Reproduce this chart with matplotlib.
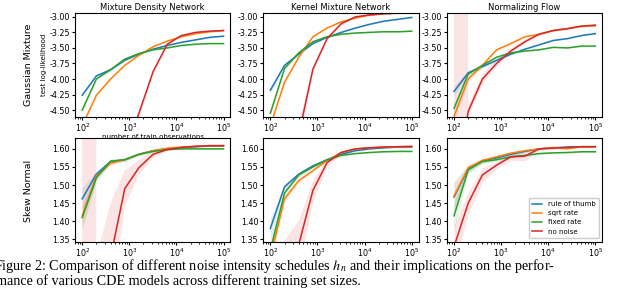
import numpy as np
import matplotlib
matplotlib.use("Agg")
import matplotlib.pyplot as plt

plt.rcParams['mathtext.fontset'] = 'stix'

# training set sizes
n_obs = [100, 200, 400, 800, 1600, 3200, 6400, 12800, 25600, 51200, 100000]

series_names = ['rule of thumb', 'sqrt rate', 'fixed rate', 'no noise']
series_colors = ['#1f77b4', '#ff7f0e', '#2ca02c', '#d62728']
col_titles = ['Mixture Density Network', 'Kernel Mixture Network', 'Normalizing Flow']
row_titles = ['Gaussian Mixture', 'Skew Normal']

# Gaussian Mixture - test log-likelihood
gm_mdn_rot = [-4.26, -3.95, -3.85, -3.70, -3.60, -3.52, -3.46, -3.41, -3.37, -3.33, -3.31]
gm_mdn_sqrt = [-4.75, -4.26, -4.00, -3.78, -3.62, -3.48, -3.39, -3.32, -3.27, -3.24, -3.22]
gm_mdn_fixed = [-4.50, -4.00, -3.85, -3.68, -3.59, -3.53, -3.50, -3.46, -3.44, -3.43, -3.43]
gm_mdn_none = [-6.5, -6.2, -5.8, -5.2, -4.55, -3.88, -3.44, -3.30, -3.25, -3.23, -3.22]

gm_kmn_rot = [-4.18, -3.78, -3.60, -3.43, -3.33, -3.25, -3.18, -3.12, -3.07, -3.04, -3.01]
gm_kmn_sqrt = [-4.75, -4.05, -3.65, -3.32, -3.18, -3.08, -3.02, -2.97, -2.95, -2.94, -2.94]
gm_kmn_fixed = [-4.55, -3.83, -3.58, -3.40, -3.32, -3.28, -3.26, -3.25, -3.24, -3.24, -3.23]
gm_kmn_none = [-6.5, -5.8, -4.9, -3.84, -3.35, -3.11, -3.00, -2.97, -2.95, -2.94, -2.93]

gm_nf_rot = [-4.20, -3.90, -3.80, -3.70, -3.60, -3.52, -3.45, -3.38, -3.35, -3.30, -3.27]
gm_nf_sqrt = [-4.60, -4.00, -3.78, -3.53, -3.43, -3.32, -3.28, -3.22, -3.19, -3.15, -3.13]
gm_nf_fixed = [-4.47, -3.92, -3.78, -3.65, -3.58, -3.55, -3.53, -3.49, -3.50, -3.47, -3.47]
gm_nf_none = [-6.0, -4.52, -4.00, -3.75, -3.55, -3.40, -3.28, -3.22, -3.19, -3.15, -3.14]

# Skew Normal - test log-likelihood
sn_mdn_rot = [1.462, 1.530, 1.565, 1.570, 1.585, 1.595, 1.600, 1.603, 1.606, 1.608, 1.608]
sn_mdn_sqrt = [1.415, 1.525, 1.560, 1.570, 1.585, 1.595, 1.602, 1.605, 1.607, 1.608, 1.609]
sn_mdn_fixed = [1.410, 1.520, 1.566, 1.570, 1.585, 1.593, 1.598, 1.600, 1.600, 1.600, 1.600]
sn_mdn_none = [0.50, 1.00, 1.30, 1.49, 1.548, 1.585, 1.598, 1.604, 1.607, 1.609, 1.609]

sn_kmn_rot = [1.380, 1.495, 1.530, 1.553, 1.570, 1.585, 1.595, 1.600, 1.603, 1.605, 1.605]
sn_kmn_sqrt = [1.300, 1.462, 1.512, 1.540, 1.568, 1.590, 1.600, 1.603, 1.605, 1.606, 1.606]
sn_kmn_fixed = [1.320, 1.478, 1.528, 1.550, 1.570, 1.582, 1.587, 1.590, 1.592, 1.593, 1.593]
sn_kmn_none = [1.10, 1.20, 1.335, 1.485, 1.562, 1.590, 1.600, 1.603, 1.605, 1.606, 1.607]

sn_nf_rot = [1.467, 1.545, 1.567, 1.575, 1.585, 1.593, 1.600, 1.603, 1.605, 1.606, 1.606]
sn_nf_sqrt = [1.470, 1.548, 1.568, 1.578, 1.588, 1.595, 1.600, 1.604, 1.600, 1.606, 1.606]
sn_nf_fixed = [1.415, 1.542, 1.565, 1.570, 1.578, 1.582, 1.587, 1.589, 1.590, 1.592, 1.592]
sn_nf_none = [1.330, 1.450, 1.528, 1.555, 1.578, 1.580, 1.600, 1.602, 1.604, 1.606, 1.606]

# spread (std over seeds) for the shaded bands
gm_mdn_std = [0.03, 0.02, 0.02, 0.01, 0.01, 0.01, 0.01, 0.01, 0.01, 0.01, 0.01]
gm_mdn_none_std = [0.3, 0.3, 0.2, 0.15, 0.06, 0.04, 0.02, 0.01, 0.01, 0.01, 0.01]
gm_kmn_std = [0.05, 0.03, 0.02, 0.01, 0.01, 0.01, 0.01, 0.01, 0.01, 0.01, 0.01]
gm_kmn_none_std = [0.3, 0.3, 0.2, 0.05, 0.03, 0.02, 0.01, 0.01, 0.01, 0.01, 0.01]
gm_nf_std = [0.08, 0.04, 0.03, 0.02, 0.02, 0.01, 0.01, 0.01, 0.01, 0.01, 0.01]
gm_nf_none_std = [100.0, 0.1, 0.08, 0.06, 0.04, 0.03, 0.02, 0.02, 0.02, 0.02, 0.02]

sn_mdn_std = [0.03, 0.01, 0.006, 0.004, 0.003, 0.003, 0.002, 0.002, 0.002, 0.002, 0.002]
sn_mdn_none_std = [100.0, 0.3, 0.15, 0.05, 0.02, 0.01, 0.005, 0.003, 0.002, 0.002, 0.002]
sn_kmn_std = [0.03, 0.01, 0.006, 0.004, 0.003, 0.003, 0.002, 0.002, 0.002, 0.002, 0.002]
sn_kmn_none_std = [0.2, 0.15, 0.07, 0.03, 0.01, 0.005, 0.003, 0.002, 0.002, 0.002, 0.002]
sn_nf_std = [0.04, 0.01, 0.006, 0.005, 0.005, 0.004, 0.003, 0.003, 0.003, 0.002, 0.002]
sn_nf_none_std = [0.06, 0.03, 0.02, 0.01, 0.01, 0.012, 0.004, 0.003, 0.002, 0.002, 0.002]

panels = [
    [(gm_mdn_rot, gm_mdn_sqrt, gm_mdn_fixed, gm_mdn_none, gm_mdn_std, gm_mdn_none_std),
     (gm_kmn_rot, gm_kmn_sqrt, gm_kmn_fixed, gm_kmn_none, gm_kmn_std, gm_kmn_none_std),
     (gm_nf_rot, gm_nf_sqrt, gm_nf_fixed, gm_nf_none, gm_nf_std, gm_nf_none_std)],
    [(sn_mdn_rot, sn_mdn_sqrt, sn_mdn_fixed, sn_mdn_none, sn_mdn_std, sn_mdn_none_std),
     (sn_kmn_rot, sn_kmn_sqrt, sn_kmn_fixed, sn_kmn_none, sn_kmn_std, sn_kmn_none_std),
     (sn_nf_rot, sn_nf_sqrt, sn_nf_fixed, sn_nf_none, sn_nf_std, sn_nf_none_std)],
]

row_ylim = [(-4.61, -2.94), (1.344, 1.631)]
row_yticks = [np.arange(-4.5, -2.99, 0.25), np.arange(1.35, 1.601, 0.05)]

fig = plt.figure(figsize=(6.4, 2.91), dpi=100)
col_left = [0.117, 0.411, 0.698]
row_bottom = [0.598, 0.170]
ax_w, ax_h = 0.243, 0.357

x = np.array(n_obs)
for r in range(2):
    for c in range(3):
        ax = fig.add_axes([col_left[c], row_bottom[r], ax_w, ax_h])
        rot, sqrt_, fixed, none, std, none_std = panels[r][c]
        for vals, name, color in zip([rot, sqrt_, fixed, none], series_names, series_colors):
            s = np.array(none_std if name == 'no noise' else std)
            v = np.array(vals)
            ax.fill_between(x, v - s, v + s, color=color, alpha=0.12, lw=0)
            ax.plot(x, v, color=color, lw=1.1, label=name)
        ax.set_xscale('log')
        ax.set_xlim(70, 1.4e5)
        ax.set_ylim(*row_ylim[r])
        ax.set_yticks(row_yticks[r])
        ax.yaxis.set_major_formatter(matplotlib.ticker.FormatStrFormatter('%.2f'))
        ax.tick_params(labelsize=5.8, length=2.5, pad=1.0)
        ax.tick_params(which='minor', length=1.5)
        if r == 0:
            ax.set_title(col_titles[c], fontsize=6, pad=2)
        if r == 0 and c == 0:
            ax.set_ylabel('test log-likelihood', fontsize=5, labelpad=2)
            ax.set_xlabel('number of train observations', fontsize=5, labelpad=0)
        if r == 1 and c == 2:
            ax.legend(loc='lower right', fontsize=5, handlelength=1.4,
                      borderpad=0.5, labelspacing=0.45, framealpha=1)

fig.text(0.045, 0.776, row_titles[0], rotation=90, fontsize=6.8, ha='center', va='center')
fig.text(0.045, 0.345, row_titles[1], rotation=90, fontsize=6.8, ha='center', va='center')

cap_font = dict(family='Liberation Serif', fontsize=10.2)
fig.text(-0.009, 0.071,
         'Figure 2: Comparison of different noise intensity schedules $h_n$ '
         'and their implications on the perfor-', ha='left', va='baseline', **cap_font)
fig.text(-0.006, 0.021,
         'mance of various CDE models across different training set sizes.',
         ha='left', va='baseline', **cap_font)

fig.savefig('out.png', dpi=100)
